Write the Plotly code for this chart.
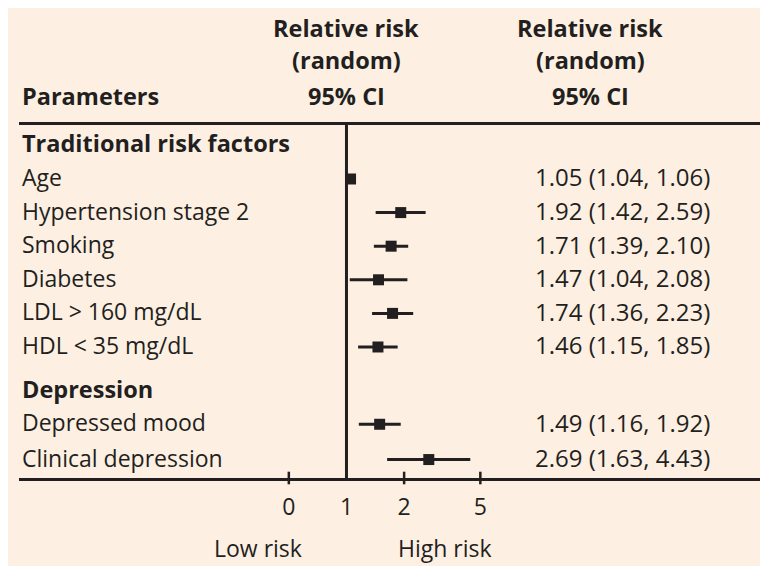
import plotly.graph_objects as go

# ---------------- data ----------------
group_headers = ["Traditional risk factors", "Depression"]
group_rows = [0, 7.3]

parameters = ["Age", "Hypertension stage 2", "Smoking", "Diabetes",
              "LDL > 160 mg/dL", "HDL < 35 mg/dL",
              "Depressed mood", "Clinical depression"]
param_rows = [1, 2, 3, 4, 5, 6, 8.3, 9.35]
rr = [1.05, 1.92, 1.71, 1.47, 1.74, 1.46, 1.49, 2.69]
ci_low = [1.04, 1.42, 1.39, 1.04, 1.36, 1.15, 1.16, 1.63]
ci_high = [1.06, 2.59, 2.10, 2.08, 2.23, 1.85, 1.92, 4.43]
rr_text = ["1.05 (1.04, 1.06)", "1.92 (1.42, 2.59)", "1.71 (1.39, 2.10)",
           "1.47 (1.04, 2.08)", "1.74 (1.36, 2.23)", "1.46 (1.15, 1.85)",
           "1.49 (1.16, 1.92)", "2.69 (1.63, 4.43)"]

tick_vals = [0.5, 1, 2, 5]
tick_text = ["0", "1", "2", "5"]
header_lines = ["Relative risk", "(random)", "95% CI"]

# ---------------- layout helpers ----------------
OFF = 8                      # page body margin
W, H = 768 - OFF, 566 - OFF
PLOT_L, PLOT_R, PLOT_T, PLOT_B = 19, 768, 125, 478   # in window pixels
L, R, T, B = PLOT_L - OFF, 768 - PLOT_R, PLOT_T - OFF, 566 - PLOT_B
PW, PH = PLOT_R - PLOT_L, PLOT_B - PLOT_T
INK = "#231F20"
BG = "#FDF0E3"
FONT = "Open Sans"
FS = 23
FS_B = 23.5
FS_N = 24

def px_x(px):
    return (px - PLOT_L) / PW

def px_y(py):
    return (PLOT_B - py) / PH

Y_RANGE = [9.899, -0.607]
X_RANGE = [-1.710, 2.201]

fig = go.Figure()

# reference line at RR = 1
fig.add_trace(go.Scatter(x=[1, 1], y=[Y_RANGE[1], Y_RANGE[0]], mode="lines",
                         line=dict(color=INK, width=3), hoverinfo="skip",
                         showlegend=False, cliponaxis=False))

# point estimates with CI
fig.add_trace(go.Scatter(
    x=rr, y=param_rows, mode="markers",
    marker=dict(symbol="square", size=11, color=INK),
    error_x=dict(type="data", symmetric=False,
                 array=[h - v for h, v in zip(ci_high, rr)],
                 arrayminus=[v - l for v, l in zip(rr, ci_low)],
                 width=0, thickness=3, color=INK),
    showlegend=False, hoverinfo="skip"))

# crossing tick marks on the axis
fig.add_trace(go.Scatter(
    x=[v for v in tick_vals if v != 1], y=[Y_RANGE[0]] * 3, mode="markers",
    marker=dict(symbol="line-ns", size=9, line=dict(color=INK, width=2.5)),
    showlegend=False, hoverinfo="skip", cliponaxis=False))

annotations = []
TXT_SHIFT = 2
for name, row in zip(group_headers, group_rows):
    annotations.append(dict(x=px_x(20), xref="paper", y=row, yref="y",
                            text="<b>" + name + "</b>", showarrow=False,
                            xanchor="left", yanchor="middle", yshift=TXT_SHIFT,
                            font=dict(size=FS_B, color=INK, family=FONT)))
for name, row, t in zip(parameters, param_rows, rr_text):
    annotations.append(dict(x=px_x(20), xref="paper", y=row, yref="y",
                            text=name, showarrow=False,
                            xanchor="left", yanchor="middle", yshift=TXT_SHIFT,
                            font=dict(size=FS, color=INK, family=FONT)))
    annotations.append(dict(x=px_x(622), xref="paper", y=row, yref="y",
                            text=t, showarrow=False,
                            xanchor="center", yanchor="middle", yshift=TXT_SHIFT,
                            font=dict(size=FS_N, color=INK, family=FONT)))

# column headers
for cx in (346, 590):
    for line, cy in zip(header_lines, (28, 60, 96)):
        annotations.append(dict(x=px_x(cx), xref="paper", y=px_y(cy), yref="paper",
                                text="<b>" + line + "</b>", showarrow=False,
                                xanchor="center", yanchor="middle",
                                font=dict(size=FS_B, color=INK, family=FONT)))
annotations.append(dict(x=px_x(20), xref="paper", y=px_y(96), yref="paper",
                        text="<b>Parameters</b>", showarrow=False,
                        xanchor="left", yanchor="middle",
                        font=dict(size=FS_B, color=INK, family=FONT)))
for txt, cx in (("Low risk", 258), ("High risk", 445)):
    annotations.append(dict(x=px_x(cx), xref="paper", y=px_y(548), yref="paper",
                            text=txt, showarrow=False,
                            xanchor="center", yanchor="middle",
                            font=dict(size=FS, color=INK, family=FONT)))

fig.update_layout(
    width=W, height=H,
    margin=dict(l=L, r=R, t=T, b=B, pad=0),
    paper_bgcolor=BG, plot_bgcolor="rgba(0,0,0,0)",
    font=dict(family=FONT, color=INK),
    annotations=annotations,
    xaxis=dict(type="log", range=X_RANGE, tickvals=tick_vals, ticktext=tick_text,
               ticks="", showgrid=False, zeroline=False,
               showline=True, linewidth=3, linecolor=INK, mirror=True,
               tickfont=dict(size=FS, color=INK, family=FONT),
               ticklabelstandoff=6, fixedrange=True),
    yaxis=dict(range=Y_RANGE, showgrid=False, zeroline=False, showline=False,
               showticklabels=False, ticks="", fixedrange=True),
)

fig.write_html("out.html")
